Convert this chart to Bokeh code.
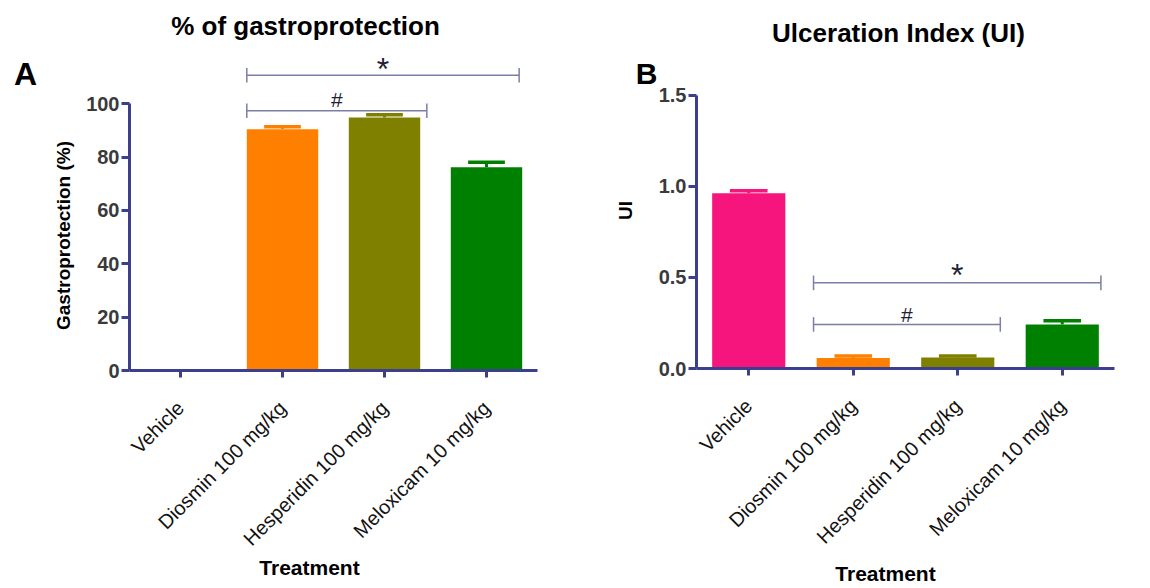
import math
from bokeh.plotting import figure
from bokeh.models import Range1d, FixedTicker, Label, NumeralTickFormatter
from bokeh.layouts import row
from bokeh.embed import file_html
from bokeh.resources import INLINE

# ---- data ----
treatments = ["Vehicle", "Diosmin 100 mg/kg", "Hesperidin 100 mg/kg", "Meloxicam 10 mg/kg"]
bar_colors = ["#F5157D", "#FF8000", "#808000", "#008000"]

gastro_mean = [0.0, 90.5, 94.9, 76.2]
gastro_sem = [0.0, 0.9, 1.0, 1.9]

ui_mean = [0.962, 0.058, 0.060, 0.242]
ui_sem = [0.014, 0.010, 0.008, 0.020]

gastro_ticks = [0, 20, 40, 60, 80, 100]
ui_ticks = [0.0, 0.5, 1.0, 1.5]

# significance brackets: symbol, from category, to category, height
gastro_brackets = [("*", 2, 4, 110.7), ("#", 2, 3, 97.4)]
ui_brackets = [("*", 2, 4, 0.470), ("#", 2, 3, 0.242)]

AXIS = "#3B3F8C"
BRACKET = "#7B7EA8"
FONT = "Liberation Sans"
H = 588


def lab(p, text, x, y, size, bold=True, angle=0.0, color="#000000",
        align="center", baseline="middle", units="screen", yoff=0):
    p.add_layout(Label(x=x, y=y, x_units=units, y_units=units, text=text,
                       text_font=FONT, text_font_size=f"{size}px",
                       text_font_style="bold" if bold else "normal",
                       text_color=color, text_align=align, text_baseline=baseline,
                       angle=angle, y_offset=yoff))


def panel(width, axis_left, px_per_cat, zero_y, px_per_unit, ymax_axis, ticks,
          means, sems, brackets, bracket_pad, tick_half, fmt=None):
    # frame covers the whole canvas; axes are pinned at the data origin
    n = len(treatments)
    x0 = 0.5 - axis_left / px_per_cat
    x1 = x0 + width / px_per_cat
    y1 = zero_y / px_per_unit
    y0 = y1 - H / px_per_unit
    p = figure(width=width, height=H, x_range=Range1d(x0, x1), y_range=Range1d(y0, y1),
               output_backend="svg", toolbar_location=None,
               min_border_left=0, min_border_right=0, min_border_top=0, min_border_bottom=0)
    p.outline_line_color = None
    p.xgrid.visible = False
    p.ygrid.visible = False

    xs = [i + 1 for i in range(n)]
    p.vbar(x=xs, top=means, width=0.7, fill_color=bar_colors, line_color=None)
    ex, et, ec, eb = [], [], [], []
    for i, (m, s) in enumerate(zip(means, sems)):
        if m > 0:
            ex.append(xs[i]); eb.append(m); et.append(m + s); ec.append(bar_colors[i])
    p.segment(x0=ex, x1=ex, y0=eb, y1=et, line_color=ec, line_width=3)
    p.segment(x0=[x - 0.18 for x in ex], x1=[x + 0.18 for x in ex], y0=et, y1=et,
              line_color=ec, line_width=3.5)

    bx0, bx1, by0, by1 = [], [], [], []
    for (sym, a, b, y), (pa, pb) in zip(brackets, bracket_pad):
        xa, xb = a - 0.35 - pa, b + 0.35 + pb
        bx0 += [xa, xa, xb]; bx1 += [xb, xa, xb]
        by0 += [y, y - tick_half, y - tick_half]; by1 += [y, y + tick_half, y + tick_half]
    p.segment(x0=bx0, x1=bx1, y0=by0, y1=by1, line_color=BRACKET, line_width=1.5)

    ya = p.yaxis[0]
    xa = p.xaxis[0]
    ya.fixed_location = 0.5
    xa.fixed_location = 0
    ya.bounds = (0, ymax_axis)
    xa.bounds = (0.5, n + 0.5)
    ya.ticker = FixedTicker(ticks=ticks, minor_ticks=[])
    xa.ticker = FixedTicker(ticks=xs, minor_ticks=[])
    xa.major_label_overrides = {x: t for x, t in zip(xs, treatments)}
    if fmt:
        ya.formatter = NumeralTickFormatter(format=fmt)
    for ax in (xa, ya):
        ax.axis_line_color = AXIS
        ax.axis_line_width = 3
        ax.major_tick_line_color = AXIS
        ax.major_tick_line_width = 3
        ax.major_tick_in = 0
        ax.minor_tick_line_color = None
    ya.major_tick_out = 8
    ya.major_label_standoff = 2
    ya.major_label_text_font = FONT
    ya.major_label_text_font_size = "20px"
    ya.major_label_text_font_style = "bold"
    ya.major_label_text_color = "#3A3A3A"
    xa.major_tick_out = 7
    xa.major_label_orientation = math.pi / 4
    xa.major_label_standoff = 27
    xa.major_label_text_font = FONT
    xa.major_label_text_font_size = "20px"
    xa.major_label_text_color = "#111111"
    return p


def symbols(p, brackets, bracket_pad, star_off, hash_off):
    for (sym, a, b, y), (pa, pb) in zip(brackets, bracket_pad):
        xc = ((a - 0.35 - pa) + (b + 0.35 + pb)) / 2
        if sym == "*":
            lab(p, sym, xc, y, 32, bold=False, color="#222233", units="data", yoff=star_off)
        else:
            lab(p, sym, xc, y, 21, bold=False, color="#222233", units="data", yoff=hash_off)


# ---- left panel: % gastroprotection ----
gpad = [(0.0, -0.03), (0.0, 0.065)]
p1 = panel(580, 129, 102, 370, 2.667, 100, gastro_ticks, gastro_mean, gastro_sem,
           gastro_brackets, gpad, 2.7)
lab(p1, "% of gastroprotection", 305, H - 25, 26)
lab(p1, "A", 25, H - 73, 32)
lab(p1, "Gastroprotection (%)", 63, H - 235, 19, angle=math.pi / 2)
lab(p1, "Treatment", 309, H - 567, 21)
symbols(p1, gastro_brackets, gpad, 6, 11)

# ---- right panel: Ulceration index ----
upad = [(0.03, 0.02), (0.03, 0.057)]
p2 = panel(570, 116, 104.5, 368, 182.2, 1.5, ui_ticks, ui_mean, ui_sem,
           ui_brackets, upad, 0.04, fmt="0.0")
lab(p2, "Ulceration Index (UI)", 318, H - 32, 26)
lab(p2, "B", 66, H - 73, 30)
lab(p2, "UI", 45, H - 210, 19, angle=math.pi / 2)
lab(p2, "Treatment", 305, H - 573, 21)
symbols(p2, ui_brackets, upad, 8, 10)

layout = row(p1, p2)
open("out.html", "w").write(file_html(layout, INLINE))
